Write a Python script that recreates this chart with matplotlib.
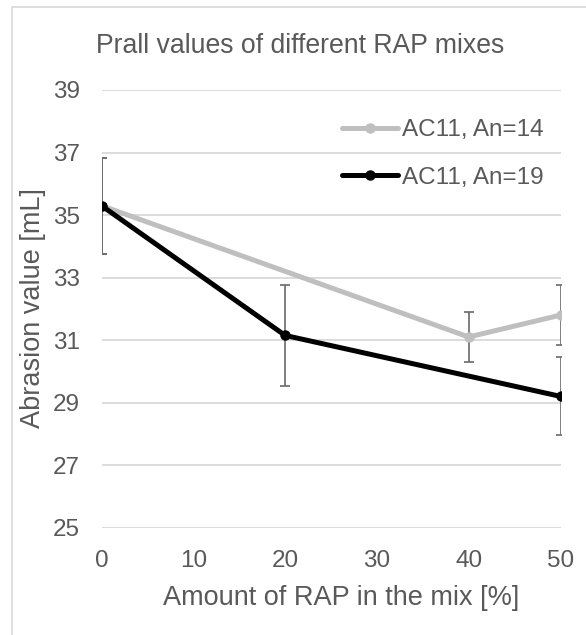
import numpy as np
import matplotlib
matplotlib.use("Agg")
import matplotlib.pyplot as plt
from matplotlib.patches import Rectangle

plt.rcParams['font.family'] = ['Liberation Sans', 'DejaVu Sans']

# data
x_an14 = [0, 40, 50]
y_an14 = [35.3, 31.1, 31.8]
e_an14 = [1.53, 0.79, 0.97]

x_an19 = [0, 20, 50]
y_an19 = [35.3, 31.15, 29.2]
e_an19 = [1.53, 1.62, 1.25]

labels = ["AC11, An=14", "AC11, An=19"]
yticks = [25, 27, 29, 31, 33, 35, 37, 39]
xticks = [0, 10, 20, 30, 40, 50]

W, H = 586, 635
fig = plt.figure(figsize=(W/100, H/100), dpi=100)
fig.patch.set_facecolor('white')

# outer chart border
fig.add_artist(Rectangle((12/W, -0.1), 1.2, 1 - 7/H + 0.1, transform=fig.transFigure,
                         fill=False, edgecolor='#d9d9d9', linewidth=1.2))

ax_l, ax_r = 101.5, 560.5
ax_t, ax_b = 90.0, 527.7
ax = fig.add_axes([ax_l/W, 1 - ax_b/H, (ax_r-ax_l)/W, (ax_b-ax_t)/H])

txt = '#595959'
ax.errorbar(x_an14, y_an14, yerr=e_an14, fmt='none', ecolor='#6a6a6a', elinewidth=1.2,
            capsize=3.8, capthick=1.2, zorder=2)
ax.errorbar(x_an19, y_an19, yerr=e_an19, fmt='none', ecolor='#6a6a6a', elinewidth=1.2,
            capsize=3.8, capthick=1.2, zorder=2)
ax.plot(x_an14, y_an14, color='#bfbfbf', linewidth=3.6, marker='o', markersize=6.5,
        label=labels[0], zorder=3, solid_capstyle='round')
ax.plot(x_an19, y_an19, color='black', linewidth=3.6, marker='o', markersize=6.5,
        label=labels[1], zorder=4, solid_capstyle='round')

ax.set_xlim(0, 50)
ax.set_ylim(25, 39)
ax.set_yticks(yticks)
ax.set_xticks(xticks)
ax.grid(axis='y', color='#d9d9d9', linewidth=1.3)
ax.set_axisbelow(True)
for s in ax.spines.values():
    s.set_visible(False)
ax.tick_params(axis='both', length=0, labelsize=17.5, colors=txt)
ax.tick_params(axis='y', pad=15.5)
ax.tick_params(axis='x', pad=16)

pw, ph = ax_r - ax_l, ax_b - ax_t
ax.set_xlabel("Amount of RAP in the mix [%]", fontsize=19.5, color=txt)
ax.xaxis.label.set_va('baseline')
ax.xaxis.set_label_coords((341 - ax_l)/pw, (ax_b - 605)/ph)
ax.set_ylabel("Abrasion value [mL]", fontsize=19.5, color=txt)
ax.yaxis.label.set_va('center')
ax.yaxis.set_label_coords((33 - ax_l)/pw, (ax_b - 308.5)/ph)

fig.text(300.5/W, 1 - 53/H, "Prall values of different RAP mixes", fontsize=19.2,
         color=txt, ha='center', va='baseline')

leg = ax.legend(loc='center left', bbox_to_anchor=(342/W, 1 - 154.2/H),
                bbox_transform=fig.transFigure, frameon=False, fontsize=17.5,
                borderaxespad=0, borderpad=0,
                handlelength=2.3, handletextpad=0.16, labelspacing=1.05)
for t in leg.get_texts():
    t.set_color(txt)

fig.savefig("out.png", dpi=100, facecolor='white')
